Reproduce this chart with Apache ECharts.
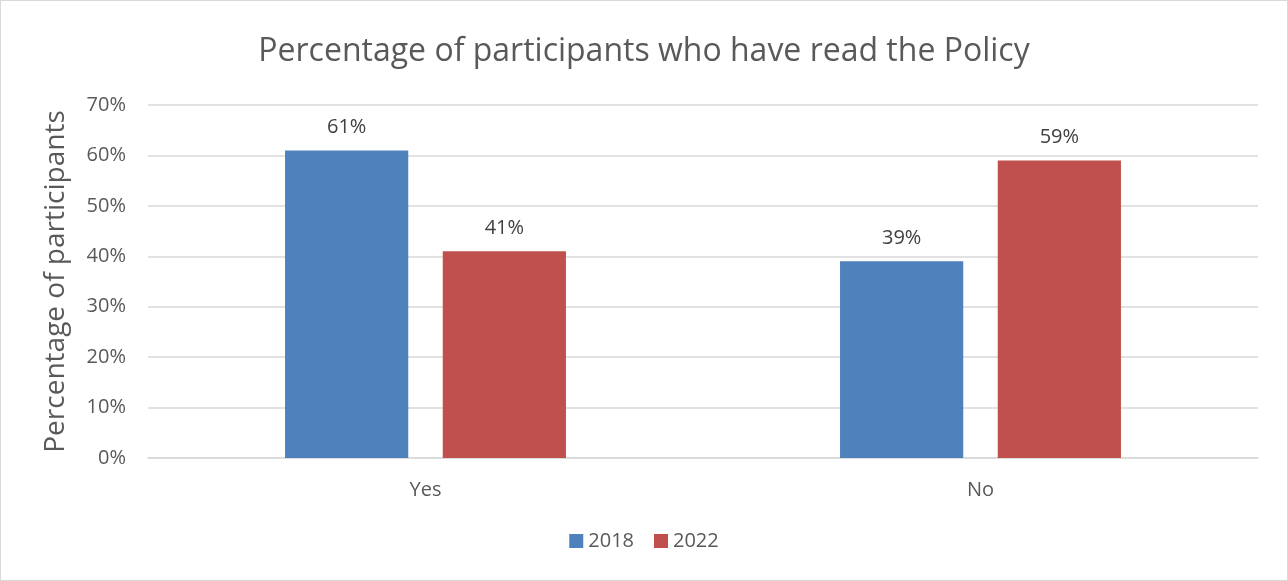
<!DOCTYPE html>
<html>
<head>
<meta charset="utf-8">
<script src="https://cdn.jsdelivr.net/npm/echarts@6/dist/echarts.min.js"></script>
<style>
  html, body { margin: 0; padding: 0; background: #fff; }
  #chart { width: 1288px; height: 581px; box-sizing: border-box; border: 1px solid #d9d9d9; }
</style>
</head>
<body>
<div id="chart"></div>
<script>
// data
const categories = ['Yes', 'No'];
const values2018 = [61, 39];
const values2022 = [41, 59];
const yTicks = [0, 10, 20, 30, 40, 50, 60, 70];

const textColor = '#595959';
const fontFamily = '"Open Sans", "Liberation Sans", sans-serif';

const chart = echarts.init(document.getElementById('chart'));

function barSeries(name, data, color) {
  return {
    name: name,
    type: 'bar',
    data: data,
    barWidth: '22.2%',
    barGap: '28%',
    itemStyle: { color: color },
    label: {
      show: true,
      position: 'top',
      distance: 13,
      formatter: p => p.value + '%',
      color: '#404040',
      fontSize: 20,
      fontFamily: fontFamily
    }
  };
}

chart.setOption({
  animation: false,
  textStyle: { fontFamily: fontFamily },
  title: {
    text: 'Percentage of participants who have read the Policy',
    left: 'center',
    top: 30,
    textStyle: { color: textColor, fontSize: 32, fontWeight: 'normal', fontFamily: fontFamily }
  },
  legend: {
    data: ['2018', '2022'],
    bottom: 24,
    left: 'center',
    itemWidth: 14,
    itemHeight: 14,
    itemGap: 20,
    icon: 'rect',
    textStyle: { color: textColor, fontSize: 20, fontFamily: fontFamily }
  },
  grid: { left: 147, right: 29, top: 104, bottom: 122 },
  xAxis: {
    type: 'category',
    data: categories,
    axisLine: { lineStyle: { color: '#d9d9d9', width: 1.5 } },
    axisTick: { show: false },
    axisLabel: { color: textColor, fontSize: 20, margin: 22 }
  },
  yAxis: {
    type: 'value',
    min: yTicks[0],
    max: yTicks[yTicks.length - 1],
    interval: 10,
    name: 'Percentage of participants',
    nameLocation: 'middle',
    nameGap: 78,
    nameTextStyle: { color: textColor, fontSize: 28, fontFamily: fontFamily },
    axisLabel: { color: textColor, fontSize: 20, margin: 22, formatter: v => v + '%' },
    axisLine: { show: false },
    axisTick: { show: false },
    splitLine: { lineStyle: { color: '#d9d9d9', width: 1.5 } }
  },
  series: [
    barSeries('2018', values2018, '#4f81bd'),
    barSeries('2022', values2022, '#c0504d')
  ]
});
</script>
</body>
</html>
